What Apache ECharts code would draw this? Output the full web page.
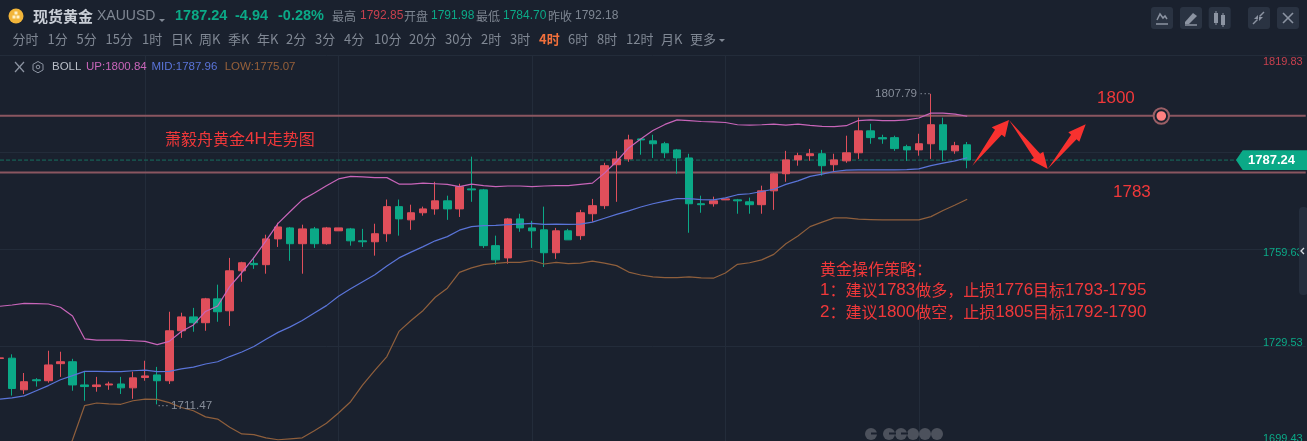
<!DOCTYPE html>
<html><head><meta charset="utf-8">
<style>html,body{margin:0;padding:0;background:#1a212e;overflow:hidden}#c{width:1307px;height:441px}</style>
<script src="https://cdn.jsdelivr.net/npm/echarts@6/dist/echarts.min.js"></script>
</head><body><div id="c"></div>
<script>
const opens=[1725.7,1725.8,1716.0,1719.1,1718.8,1724.1,1724.7,1717.5,1717.0,1717.5,1717.8,1716.6,1719.8,1720.6,1718.8,1734.3,1738.6,1736.8,1744.2,1740.5,1752.9,1755.2,1754.8,1762.8,1766.2,1761.3,1765.9,1761.3,1765.3,1765.9,1762.2,1761.9,1764.4,1772.8,1768.7,1770.9,1772.1,1774.6,1772.1,1778.3,1778.0,1760.7,1756.9,1769.0,1766.2,1765.6,1758.5,1765.3,1763.8,1770.6,1773.1,1785.8,1787.6,1793.8,1793.2,1792.3,1790.4,1787.9,1773.7,1773.7,1774.9,1774.9,1774.3,1773.4,1777.7,1783.0,1787.3,1788.6,1789.2,1785.8,1787.0,1789.5,1796.3,1794.2,1794.2,1791.4,1790.4,1792.3,1798.2,1790.1,1791.98];
const closes=[1725.9,1716.4,1718.5,1718.8,1723.7,1724.7,1717.5,1717.0,1717.5,1717.8,1716.6,1719.7,1720.3,1718.8,1734.3,1738.6,1736.8,1744.2,1740.2,1752.9,1755.4,1754.8,1762.8,1766.5,1761.3,1765.9,1761.3,1766.2,1766.2,1762.2,1761.9,1764.4,1772.8,1769.0,1770.9,1772.1,1774.6,1772.1,1779.0,1778.0,1760.7,1756.3,1769.0,1766.2,1765.3,1758.5,1765.3,1762.5,1770.9,1773.1,1785.5,1787.6,1793.5,1793.5,1792.3,1789.5,1787.9,1773.7,1773.4,1774.6,1775.2,1774.6,1773.4,1777.7,1783.0,1787.3,1788.6,1789.2,1785.5,1787.3,1789.5,1796.3,1794.2,1793.8,1790.8,1790.4,1792.3,1798.2,1790.4,1791.7,1787.24];
const lows=[1725.7,1714.2,1714.7,1717.0,1718.2,1720.0,1715.7,1712.6,1715.4,1716.0,1714.7,1713.2,1718.8,1711.47,1717.8,1732.1,1734.0,1734.3,1737.1,1735.8,1749.5,1753.5,1752.0,1760.3,1756.0,1752.0,1760.0,1761.0,1765.3,1760.7,1760.3,1757.6,1761.9,1763.8,1765.6,1770.0,1770.3,1768.7,1769.6,1774.3,1760.0,1754.8,1755.1,1765.0,1760.0,1754.1,1756.6,1762.5,1762.5,1768.1,1772.1,1774.3,1786.7,1788.9,1787.9,1787.9,1783.0,1764.7,1770.9,1772.8,1774.9,1770.6,1770.6,1770.6,1771.8,1780.5,1785.5,1787.0,1782.4,1783.6,1786.4,1787.6,1792.3,1792.3,1790.1,1787.0,1788.6,1787.6,1787.0,1789.2,1784.7];
const highs=[1725.9,1727.0,1721.2,1719.6,1728.1,1727.8,1725.6,1721.8,1720.0,1718.5,1720.0,1721.6,1725.0,1723.1,1740.2,1739.9,1741.4,1744.5,1748.6,1756.9,1755.7,1757.2,1764.1,1767.8,1766.5,1767.2,1766.5,1766.5,1766.2,1766.2,1765.9,1767.5,1775.0,1775.0,1773.4,1772.8,1780.5,1776.2,1779.9,1788.3,1778.3,1763.8,1769.3,1770.6,1768.4,1772.8,1766.2,1765.9,1771.8,1775.2,1786.4,1790.1,1795.1,1793.8,1795.1,1792.9,1790.7,1789.2,1776.2,1775.9,1775.2,1775.2,1775.6,1779.3,1783.3,1790.1,1789.5,1790.7,1790.4,1789.2,1794.8,1800.4,1798.5,1795.1,1794.8,1792.0,1795.4,1807.79,1800.4,1792.9,1792.85];
const bollUp=[1741.9,1742.3,1742.8,1742.7,1742.6,1741.6,1738.9,1731.8,1731.4,1731.4,1731.4,1731.2,1731.0,1730.0,1731.0,1734.1,1736.1,1740.3,1742.0,1748.0,1752.3,1757.0,1762.2,1767.6,1771.3,1774.9,1777.0,1779.3,1781.4,1782.2,1782.0,1781.8,1781.8,1779.8,1779.8,1780.1,1779.9,1779.7,1779.0,1779.8,1779.3,1779.0,1779.2,1779.2,1779.0,1779.2,1779.3,1779.3,1779.7,1780.1,1783.2,1786.8,1791.0,1793.8,1796.4,1798.3,1799.7,1799.5,1799.2,1799.1,1798.9,1798.2,1798.1,1798.2,1798.4,1798.1,1798.4,1798.0,1797.7,1797.6,1797.9,1799.5,1799.7,1799.5,1799.5,1799.7,1800.3,1801.8,1801.8,1801.5,1800.84];
const bollMid=[1713.1,1713.5,1714.1,1715.7,1717.3,1719.1,1720.4,1721.7,1721.7,1721.6,1721.6,1721.9,1722.1,1721.6,1721.7,1722.5,1723.0,1724.0,1724.7,1726.3,1727.7,1729.4,1731.7,1733.8,1735.5,1737.5,1739.8,1742.1,1745.0,1747.3,1749.5,1751.7,1754.4,1756.9,1758.7,1760.4,1762.2,1763.5,1765.5,1766.6,1766.9,1767.0,1767.2,1767.4,1767.6,1767.3,1767.4,1767.3,1767.4,1768.0,1769.2,1770.4,1771.5,1772.7,1773.7,1774.5,1775.3,1775.3,1775.0,1774.9,1775.5,1776.5,1776.8,1777.5,1778.2,1779.7,1780.8,1782.2,1782.9,1783.7,1784.1,1784.2,1784.2,1784.2,1784.2,1784.3,1784.5,1785.5,1786.3,1787.0,1787.96];
const bollLow=[null,null,null,null,null,1691.0,1700.5,1711.1,1711.9,1711.6,1711.5,1712.6,1713.1,1713.0,1712.0,1710.5,1709.5,1707.6,1706.9,1704.4,1702.3,1702.1,1701.1,1700.5,1700.8,1701.1,1703.3,1705.6,1708.8,1712.3,1717.5,1722.0,1726.3,1734.1,1737.5,1740.6,1744.7,1747.5,1752.4,1753.8,1754.8,1755.2,1755.5,1755.5,1756.1,1755.0,1755.5,1755.1,1755.3,1755.9,1755.3,1754.5,1752.5,1751.6,1751.0,1750.8,1750.8,1751.0,1750.7,1750.6,1752.2,1754.9,1755.4,1756.3,1758.0,1761.3,1763.7,1766.6,1768.0,1769.3,1769.3,1768.9,1768.8,1768.7,1768.7,1768.7,1768.7,1769.7,1771.6,1773.3,1775.07];
const yTicks=[1699.43,1729.53,1759.63,1789.73,1819.83];
const yLabels=[1699.43,1729.53,1759.63,1819.83];
const resistance=1801.0, support=1783.4, lastPrice=1787.24;
const slotCount=109, gridLineSlots=[12,28,44,60,76];
const slots=Array.from({length:slotCount},(_,i)=>String(i));

const RED='#e04f5b',GREEN='#0ba987',BG='#1a212e',GRID='#232c3a',NOTE='#f0383a',LEVEL='#8a5660';
const CJK='"Noto Sans CJK SC","Liberation Sans",sans-serif', LAT='"Liberation Sans",Arial,sans-serif';
const g=[];
function T(x,y,text,fill,size,font,weight,z){g.push({type:'text',silent:true,z:z||30,style:{x,y,text,fill,font:`${weight||'normal'} ${size}px ${font||CJK}`,textVerticalAlign:'middle',textBaseline:'middle'}});}
function N(x,y,text){ // mixed note: CJK at 16px, latin runs at 17px
  const s=text.replace(/[0-9A-Z\-]+/g,m=>`{n|${m}}`).replace(/(^|\})([^{]+)(?=\{|$)/g,(m,a,b)=>`${a}{c|${b}}`);
  g.push({type:'text',silent:true,z:30,style:{x,y,text:s,textVerticalAlign:'middle',textBaseline:'middle',
    rich:{n:{fill:NOTE,font:`17px ${LAT}`},c:{fill:NOTE,font:`16px ${CJK}`}}}});
}
function Arrow(t,tip,w1,w2){
  const n1=[w1[0]+(w2[0]-w1[0])*.25,w1[1]+(w2[1]-w1[1])*.25],n2=[w1[0]+(w2[0]-w1[0])*.75,w1[1]+(w2[1]-w1[1])*.75];
  g.push({type:'polygon',silent:true,z:25,shape:{points:[t,n1,w1,tip,w2,n2]},style:{fill:'#f8312f'}});
}
function L(points,w,c){g.push({type:'polyline',silent:true,z:32,shape:{points},style:{stroke:c||'#8c94a2',lineWidth:w||1.5,fill:null}});}
function R(x,y,w,h,fill,r,z){g.push({type:'rect',silent:true,z:z||31,shape:{x,y,width:w,height:h,r:r||0},style:{fill}});}
function C(cx,cy,r,fill,stroke,lw,z){g.push({type:'circle',silent:true,z:z||30,shape:{cx,cy,r},style:{fill,stroke,lineWidth:lw||0}});}

// header
C(16,16,7.5,'#f2b53a');
R(12.5,15.5,3,3,'#fff0c8',0,31);R(16.5,15.5,3,3,'#fff0c8',0,31);R(14.5,11.5,3,3,'#fff0c8',0,31);
T(33,16,'现货黄金','#c9ced6',15,CJK,'bold');
T(97,16,'XAUUSD','#808894',14,LAT);
g.push({type:'polygon',silent:true,z:30,shape:{points:[[159,19],[165,19],[162,22]]},style:{fill:'#808894'}});
T(175,16,'1787.24',GREEN,14.5,LAT,'bold');
T(235,16,'-4.94',GREEN,14.5,LAT,'bold');
T(278,16,'-0.28%',GREEN,14.5,LAT,'bold');
[[332,'最高','#7e8692'],[360,'1792.85','#c8404e'],[404,'开盘','#7e8692'],[431,'1791.98',GREEN],[476,'最低','#7e8692'],[503,'1784.70',GREEN],[548,'昨收','#7e8692'],[575,'1792.18','#7e8692']]
 .forEach(a=>T(a[0],16,a[1],a[2],12,/^\d/.test(a[1])?LAT:CJK));
[[12.6,'分时'],[47.6,'1分'],[76.6,'5分'],[105.6,'15分'],[142,'1时'],[171,'日K'],[199,'周K'],[228,'季K'],[257,'年K'],[286,'2分'],[315,'3分'],[344,'4分'],[374,'10分'],[409,'20分'],[445,'30分'],[481,'2时'],[510,'3时'],[568,'6时'],[597,'8时'],[626,'12时'],[661,'月K'],[690,'更多']]
 .forEach(a=>T(a[0],39,a[1],'#808894',13));
T(539,39,'4时','#f2703c',13,CJK,'bold');
g.push({type:'polygon',silent:true,z:30,shape:{points:[[719,39],[725,39],[722,42]]},style:{fill:'#808894'}});
// BOLL row
L([[15,62],[24,72]],1.2);L([[24,62],[15,72]],1.2);
g.push({type:'polygon',silent:true,z:32,shape:{points:[[38,61.5],[43,64.3],[43,70],[38,72.8],[33,70],[33,64.3]]},style:{fill:null,stroke:'#8c94a2',lineWidth:1}});
C(38,67,1.8,null,'#8c94a2',1,32);
T(52,67,'BOLL','#b9bec7',11.5,LAT);
T(86,67,'UP:1800.84','#c865b9',11.5,LAT);
T(151.5,67,'MID:1787.96','#5a74d8',11.5,LAT);
T(224.7,67,'LOW:1775.07','#96603a',11.5,LAT);
// toolbar
[1151,1180,1208.7,1248,1277].forEach(x=>R(x,7,22,22,'#2a3342',3,30));
L([[1157,20],[1160,14],[1163,18],[1165,16],[1167,19]],1.5);L([[1156,24],[1168,24]],1.5);
g.push({type:'polygon',silent:true,z:32,shape:{points:[[1185,22],[1193,13],[1197,16],[1189,24],[1185,24]]},style:{fill:'#8c94a2'}});L([[1185,25],[1197,25]],1.5);
R(1214,13,4,10,'#8c94a2',0,32);L([[1216,11],[1216,25]],1);R(1221,15,4,10,'#8c94a2',0,32);L([[1223,13],[1223,27]],1);
L([[1253,24],[1257.5,19.5]],1.5);L([[1264,12],[1259.5,16.5]],1.5);
g.push({type:'polygon',silent:true,z:32,shape:{points:[[1258,15],[1258,19],[1254,19]]},style:{fill:'#8c94a2'}});
g.push({type:'polygon',silent:true,z:32,shape:{points:[[1259,21],[1259,17],[1263,17]]},style:{fill:'#8c94a2'}});
L([[1283,13],[1293,23]],1.6);L([[1293,13],[1283,23]],1.6);
// annotations
N(165,139,'萧毅舟黄金4H走势图');
T(1097,98,'1800',NOTE,17,LAT);
T(1113,192,'1783',NOTE,17,LAT);
N(820,269,'黄金操作策略：');
N(820,290,'1：建议1783做多，止损1776目标1793-1795');
N(820,312,'2：建议1800做空，止损1805目标1792-1790');
Arrow([972.3,165.7],[1009,120],[991.7,127.3],[1005,137.3]);
Arrow([1009,120],[1047.7,169],[1030.7,160],[1043.3,151.7]);
Arrow([1047.7,169],[1085.7,124.3],[1068.3,132.3],[1079.3,141.7]);
C(1161.3,116,7.7,BG,'#9b5f66',2,26);
C(1161.3,116,4.8,'#ff8080',null,0,27);
// last price tag
g.push({type:'polygon',silent:true,z:28,shape:{points:[[1236,160],[1242.7,150.3],[1307,150.3],[1307,170],[1242.7,170]]},style:{fill:GREEN}});
T(1248,160,lastPrice.toFixed(2),'#fff',13,LAT,'bold',29);
// scroll handle
R(1299,207,9,88,'#252e3d',4,40);
L([[1304,248],[1301,251],[1304,254]],1.3,'#d8dce2');g[g.length-1].z=41;
// watermark
[871,889,901,913,925,937].forEach(x=>C(x,434,6,'#4c515c',null,0,5));
[871,889,901].forEach(x=>R(x,432.5,7,2,BG,0,6));

const candles=opens.map((o,i)=>[o,closes[i],lows[i],highs[i]]);
const chart=echarts.init(document.getElementById('c'),null,{renderer:'canvas'});
const line=(name,data,color)=>({name,type:'line',data,symbol:'none',smooth:false,z:4,silent:true,lineStyle:{color,width:1.2},connectNulls:false,clip:true});
const level=(name,v,color,type,width)=>({name,type:'line',data:slots.map(()=>v),symbol:'none',z:2,silent:true,lineStyle:{color,type,width}});
chart.setOption({
  animation:false,backgroundColor:BG,
  tooltip:{show:false},
  grid:{left:0,top:55,width:12.09*(slotCount-1),height:388.2,containLabel:false,outerBoundsMode:'none'},
  xAxis:{type:'category',data:slots,boundaryGap:false,axisLine:{show:false},axisTick:{show:false},axisLabel:{show:false},
    splitLine:{show:true,lineStyle:{color:GRID,width:1},interval:(i)=>gridLineSlots.includes(i)}},
  yAxis:{type:'value',position:'right',min:1699.43,max:1819.83,scale:true,
    axisLine:{show:false},
    axisTick:{show:false,customValues:yTicks},
    splitLine:{show:true,lineStyle:{color:GRID,width:1}},
    axisLabel:{show:true,inside:true,margin:3,customValues:yLabels,fontFamily:LAT,fontSize:11,
      formatter:v=>{const s=v.toFixed(2);return v>1800?`{u|${s}}`:(v>1750?`{m|${s}}`:(v>1710?`{d|${s}}`:`{e|${s}}`));},
      rich:{u:{color:'#c8404e',fontFamily:LAT,fontSize:11,padding:[14,0,0,0]},
            m:{color:GREEN,fontFamily:LAT,fontSize:11,padding:[8,0,0,0]},
            d:{color:GREEN,fontFamily:LAT,fontSize:11,padding:[0,0,6,0]},
            e:{color:GREEN,fontFamily:LAT,fontSize:11,padding:[0,0,8,0]}}}},
  series:[
    level('last',lastPrice,'#17705f','dashed',1),
    level('resistance',resistance,LEVEL,'solid',2),
    level('support',support,LEVEL,'solid',2),
    {name:'K',type:'candlestick',data:candles,barWidth:8,z:3,silent:true,
     itemStyle:{color:RED,color0:GREEN,borderColor:RED,borderColor0:GREEN,borderWidth:1},
     markPoint:{silent:true,symbol:'circle',symbolSize:0,animation:false,z:6,data:[
       {coord:[slots[77],highs[77]],label:{show:true,position:'left',distance:0,formatter:highs[77].toFixed(2)+'\u2009···',color:'#868d99',fontFamily:LAT,fontSize:11.6}},
       {coord:[slots[13],lows[13]],label:{show:true,position:'right',distance:0,offset:[0,1],formatter:'···\u2009'+lows[13].toFixed(2),color:'#868d99',fontFamily:LAT,fontSize:11.6}}
     ]}},
    line('UP',bollUp,'#c865b9'),
    line('MID',bollMid,'#5a74d8'),
    line('LOW',bollLow,'#8f5f3c')
  ],
  graphic:{elements:g}
});
</script></body></html>
